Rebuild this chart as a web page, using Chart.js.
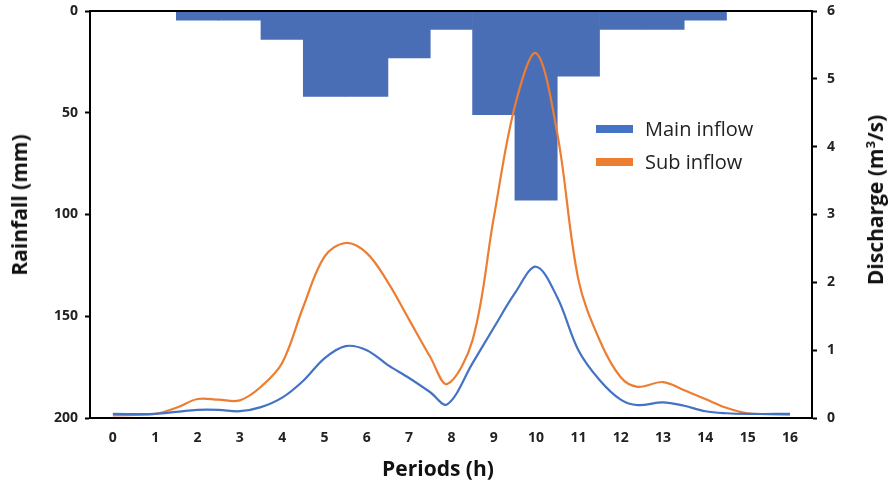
<!DOCTYPE html>
<html>
<head>
<meta charset="utf-8">
<script src="https://cdn.jsdelivr.net/npm/chart.js@4.4.1/dist/chart.umd.min.js"></script>
<style>
  html, body { margin: 0; padding: 0; background: #fff; }
  #wrap { position: relative; width: 893px; height: 491px; }
  #chart { position: absolute; left: 0; top: 0; }
  .title { position: absolute; font-family: "Open Sans", "Noto Sans", sans-serif; font-weight: 700; font-size: 21px; color: #111; white-space: nowrap; }
  .rot { transform: translate(-50%, -50%) rotate(-90deg); }
  .legend { position: absolute; left: 596px; top: 112px; font-family: "Open Sans", "Noto Sans", sans-serif; font-size: 20px; color: #222; }
  .legend div { height: 33px; display: flex; align-items: center; }
  .legend span.box { display: inline-block; width: 37px; height: 8px; margin-right: 12px; }
</style>
</head>
<body>
<div id="wrap">
  <canvas id="chart" width="893" height="491"></canvas>
  <div class="title rot" style="left:19px; top:205px;">Rainfall (mm)</div>
  <div class="title rot" style="left:875px; top:200px;">Discharge (m<sup style="font-size:13px">3</sup>/s)</div>
  <div class="title" style="left:438px; top:468px; transform: translate(-50%, -50%);">Periods (h)</div>
  <div class="legend">
    <div><span class="box" style="background:#4472C4"></span>Main inflow</div>
    <div><span class="box" style="background:#ED7D31"></span>Sub inflow</div>
  </div>
</div>
<script>
// Rainfall per period (mm), hanging from the top
const periods = [0, 1, 2, 3, 4, 5, 6, 7, 8, 9, 10, 11, 12, 13, 14, 15, 16];
const rainfall = [0, 0, 4.5, 4.5, 14, 42, 42, 23, 9, 51, 93, 32, 9, 9, 4.5, 0, 0];

// Discharge hydrographs (m3/s), read every half hour
const hours = [0, 1, 1.5, 2, 2.5, 3, 3.5, 4, 4.5, 5, 5.5, 6, 6.5, 7, 7.5, 7.9, 8.5, 9, 9.5, 10, 10.5, 11, 11.5, 12, 12.4, 13, 13.5, 14, 14.5, 15, 16];
const mainInflow = [0.06, 0.06, 0.09, 0.12, 0.12, 0.1, 0.16, 0.3, 0.55, 0.88, 1.06, 1.0, 0.78, 0.59, 0.38, 0.2, 0.81, 1.33, 1.84, 2.23, 1.78, 1.0, 0.56, 0.27, 0.19, 0.23, 0.18, 0.1, 0.07, 0.06, 0.06];
const subInflow = [0.04, 0.06, 0.15, 0.28, 0.27, 0.26, 0.46, 0.81, 1.64, 2.38, 2.58, 2.43, 2.0, 1.45, 0.9, 0.5, 1.15, 2.95, 4.6, 5.38, 4.2, 2.04, 1.15, 0.6, 0.46, 0.53, 0.41, 0.28, 0.15, 0.07, 0.05];

const xTicks = periods;
const rainTicks = [0, 50, 100, 150, 200];
const dischargeTicks = [0, 1, 2, 3, 4, 5, 6];

const tickFont = { family: '"Open Sans", "DejaVu Sans", sans-serif', size: 14, weight: 'bold' };

// top frame line
const topLine = {
    id: 'topLine',
    afterDraw(chart) {
        const { ctx, chartArea } = chart;
        ctx.save();
        ctx.strokeStyle = '#000';
        ctx.lineWidth = 2;
        ctx.beginPath();
        ctx.moveTo(chartArea.left, chartArea.top);
        ctx.lineTo(chartArea.right, chartArea.top);
        ctx.stroke();
        ctx.restore();
    }
};

function fixWidth(w) {
    return s => {
        s.width = w;
        s.paddingTop = 0;
        s.paddingBottom = 0;
    };
}

new Chart(document.getElementById('chart'), {
    type: 'line',
    data: {
        datasets: [
            {
                label: 'Main inflow',
                data: hours.map((h, i) => ({ x: h, y: mainInflow[i] })),
                yAxisID: 'y1',
                borderColor: '#4472C4',
                borderWidth: 2.2,
                pointRadius: 0,
                tension: 0.35,
                order: 1
            },
            {
                label: 'Sub inflow',
                data: hours.map((h, i) => ({ x: h, y: subInflow[i] })),
                yAxisID: 'y1',
                borderColor: '#ED7D31',
                borderWidth: 2.2,
                pointRadius: 0,
                tension: 0.35,
                order: 2
            },
            {
                type: 'bar',
                label: 'Rainfall',
                data: periods.map((p, i) => ({ x: p, y: rainfall[i] })),
                yAxisID: 'y',
                backgroundColor: '#4A6EB6',
                borderWidth: 0,
                barPercentage: 1,
                categoryPercentage: 1,
                order: 3
            }
        ]
    },
    options: {
        responsive: false,
        animation: false,
        layout: { padding: { top: 11, left: 0, right: 0, bottom: 0 } },
        plugins: { legend: { display: false }, tooltip: { enabled: false } },
        scales: {
            x: {
                type: 'linear',
                min: -0.54,
                max: 16.52,
                offset: false,
                afterBuildTicks: s => { s.ticks = xTicks.map(v => ({ value: v })); },
                afterFit: s => { s.height = 73; s.paddingLeft = 0; s.paddingRight = 0; },
                grid: { display: false, drawTicks: false },
                border: { color: '#000', width: 2 },
                ticks: { font: tickFont, color: '#222', padding: 12 }
            },
            y: {
                position: 'left',
                reverse: true,
                min: 0,
                max: 200,
                afterBuildTicks: s => { s.ticks = rainTicks.map(v => ({ value: v })); },
                afterFit: fixWidth(90),
                grid: { drawOnChartArea: false, drawTicks: true, tickLength: 5, tickColor: '#000', tickWidth: 2 },
                border: { color: '#000', width: 2 },
                ticks: { font: tickFont, color: '#222', padding: 7 }
            },
            y1: {
                position: 'right',
                min: 0,
                max: 6,
                afterBuildTicks: s => { s.ticks = dischargeTicks.map(v => ({ value: v })); },
                afterFit: fixWidth(81),
                grid: { drawOnChartArea: false, drawTicks: true, tickLength: 5, tickColor: '#000', tickWidth: 2 },
                border: { color: '#000', width: 2 },
                ticks: { font: tickFont, color: '#222', padding: 10 }
            }
        }
    },
    plugins: [topLine]
});
</script>
</body>
</html>
